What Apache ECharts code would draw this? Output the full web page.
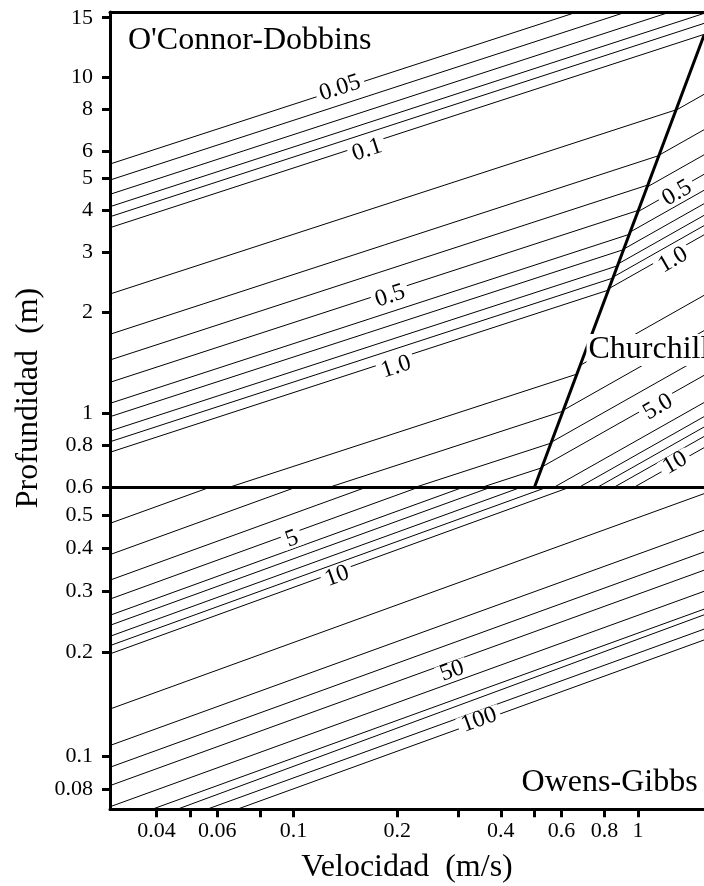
<!DOCTYPE html>
<html><head><meta charset="utf-8">
<script src="https://cdn.jsdelivr.net/npm/echarts@6/dist/echarts.min.js"></script>
<style>html,body{margin:0;padding:0;background:#fff}#c{width:704px;height:886px}</style>
</head><body><div id="c"></div>
<script>
// ---- axes ----
const xRange = [0.0293, 1.556];
const yRangeUpper = [0.6, 15.6];
const yRangeLower = [0.07, 0.6];
const xTicks = [0.04, 0.05, 0.06, 0.08, 0.1, 0.2, 0.3, 0.4, 0.5, 0.6, 0.8, 1];
const xTickLabels = [0.04, 0.06, 0.1, 0.2, 0.4, 0.6, 0.8, 1];
const yTicksUpper = [15, 10, 8, 6, 5, 4, 3, 2, 1, 0.8];
const yTicksLower = [0.6, 0.5, 0.4, 0.3, 0.2, 0.1, 0.08];

// ---- O'Connor-Dobbins contours (upper panel): [velocity, depth] ----
const ocValues = [0.05, 0.06, 0.07, 0.08, 0.09, 0.1, 0.2, 0.3, 0.4, 0.5, 0.6, 0.7, 0.8, 0.9, 1.0, 2, 3, 4, 5];
const ocStart = [[0.0293,5.507],[0.0293,4.935],[0.0293,4.475],[0.0293,4.112],[0.0293,3.838],[0.0293,3.561],
  [0.0293,2.261],[0.0293,1.716],[0.0293,1.439],[0.0293,1.235],[0.0293,1.069],[0.0293,0.9757],[0.0293,0.8847],
  [0.0293,0.8219],[0.0293,0.7648],[0.0645,0.6],[0.1259,0.6],[0.2238,0.6],[0.3497,0.6]];
const ocEnd = [[0.666,15.6],[0.925,15.6],[1.241,15.6],[1.556,15.45],[1.556,14.43],[1.556,13.38],
  [1.290,7.98],[1.149,5.832],[1.068,4.769],[1.002,4.008],[0.9438,3.402],[0.9084,3.064],[0.8719,2.742],
  [0.8458,2.522],[0.8209,2.322],[0.6646,1.306],[0.6058,1.013],[0.5592,0.814],[0.5255,0.6875]];

// ---- Churchill contours (upper panel, right of boundary) ----
const chValues = [0.2, 0.3, 0.4, 0.5, 0.6, 0.7, 0.8, 0.9, 1.0, 2, 3, 4, 5, 6, 7, 8, 9, 10];
const chStart = [[1.288,7.953],[1.151,5.848],[1.062,4.701],[0.9985,3.969],[0.9492,3.456],[0.9095,3.075],
  [0.8763,2.779],[0.8482,2.541],[0.8236,2.346],[0.6797,1.387],[0.6072,1.020],[0.5607,0.8197],[0.5268,0.6922],
  [0.568,0.6],[0.6714,0.6],[0.7594,0.6],[0.8485,0.6],[0.9700,0.6]];
const chEnd = [[1.556,8.874],[1.556,6.963],[1.556,5.865],[1.556,5.131],[1.556,4.6],[1.556,4.196],
  [1.556,3.874],[1.556,3.611],[1.556,3.39],[1.556,2.24],[1.556,1.759],[1.556,1.48],[1.556,1.295],
  [1.556,1.075],[1.556,0.976],[1.556,0.909],[1.556,0.852],[1.556,0.789]];

// ---- boundary between O'Connor-Dobbins and Churchill ----
const boundary = [[0.5, 0.6], [1.556, 13.3]];

// ---- Owens-Gibbs contours (lower panel) ----
const ogValues = [2, 3, 4, 5, 6, 7, 8, 9, 10, 20, 30, 40, 50, 60, 70, 80, 90, 100];
const ogStart = [[0.0293,0.4729],[0.0293,0.3837],[0.0293,0.3236],[0.0293,0.2851],[0.0293,0.2559],[0.0293,0.2393],
  [0.0293,0.2223],[0.0293,0.2089],[0.0293,0.1977],[0.0293,0.1368],[0.0293,0.1072],[0.0293,0.0927],[0.0293,0.0820],
  [0.0293,0.0712],[0.0388,0.07],[0.0459,0.07],[0.0560,0.07],[0.0685,0.07]];
const ogEnd = [[0.0567,0.6],[0.1007,0.6],[0.1612,0.6],[0.2287,0.6],[0.3083,0.6],[0.3707,0.6],
  [0.4543,0.6],[0.5395,0.6],[0.6284,0.6],[1.556,0.5765],[1.556,0.4516],[1.556,0.3906],[1.556,0.3457],
  [1.556,0.3002],[1.556,0.2665],[1.556,0.2566],[1.556,0.2332],[1.556,0.2169]];

// ---- contour labels: [velocity, depth, text, rotation] ----
const upperLabels = [[0.1364,9.27,'0.05',18],[0.1636,6.06,'0.1',18],[0.1908,2.23,'0.5',18],[0.1986,1.371,'1.0',18],
  [1.299,4.515,'0.5',30],[1.265,2.854,'1.0',30],[1.144,1.043,'5.0',30],[1.282,0.7107,'10',30]];
const lowerLabels = [[0.0990,0.4258,'5',20],[0.1338,0.3324,'10',20],[0.2887,0.1763,'50',20],[0.3458,0.1271,'100',20]];
// region names
const regionUpper = [[0.0325,12.79,"O'Connor-Dobbins",'right'],[0.7069,1.541,'Churchill','right']];
const regionLower = [[1.516,0.0834,'Owens-Gibbs','left']];

const FONT = 'Liberation Serif';
const series = [];
function addLines(starts, ends, xi, yi) {
  starts.forEach((s, i) => {
    series.push({type:'line', xAxisIndex:xi, yAxisIndex:yi, data:[s, ends[i]], showSymbol:false, silent:true,
      animation:false, z:2, lineStyle:{width:1, color:'#000'}});
  });
}
addLines(ocStart, ocEnd, 0, 0);
addLines(chStart, chEnd, 0, 0);
addLines(ogStart, ogEnd, 2, 1);
series.push({type:'line', xAxisIndex:0, yAxisIndex:0, data:boundary, showSymbol:false, silent:true, animation:false,
  z:4, lineStyle:{width:3, color:'#000'}});

function addLabels(list, xi, yi) {
  series.push({type:'scatter', xAxisIndex:xi, yAxisIndex:yi, symbolSize:1, silent:true, animation:false, z:5,
    itemStyle:{color:'rgba(0,0,0,0)', opacity:1},
    data: list.map(d => ({value:[d[0], d[1]], label:{rotate:d[3]}, name:d[2]})),
    label:{show:true, position:'inside', formatter:p => p.name, fontFamily:FONT, fontSize:24, color:'#000',
      backgroundColor:'#fff', padding:[0,4], lineHeight:18}});
}
addLabels(upperLabels, 0, 0);
addLabels(lowerLabels, 2, 1);
function addRegion(list, xi, yi) {
  series.push({type:'scatter', xAxisIndex:xi, yAxisIndex:yi, symbolSize:1, silent:true, animation:false, z:6,
    itemStyle:{color:'rgba(0,0,0,0)', opacity:1},
    data: list.map(d => ({value:[d[0], d[1]], name:d[2], label:{position:d[3]}})),
    label:{show:true, distance:0, formatter:p => p.name, fontFamily:FONT, fontSize:32, color:'#000',
      backgroundColor:'#fff', padding:[0,2]}});
}
addRegion(regionUpper, 0, 0);
addRegion(regionLower, 2, 1);

const axisLineStyle = {lineStyle:{color:'#000', width:3}};
const fmt = v => String(+v.toPrecision(6));
const option = {
  backgroundColor:'#fff',
  animation:false,
  grid:[
    {left:110, right:0, top:12, height:475.7},
    {left:110, right:0, top:487.7, height:321.6}
  ],
  xAxis:[
    {gridIndex:0, type:'log', min:xRange[0], max:xRange[1], position:'bottom', axisLine:{show:true, onZero:false, ...axisLineStyle},
      axisTick:{show:false}, axisLabel:{show:false}, splitLine:{show:false}, minorTick:{show:false}},
    {gridIndex:0, type:'log', min:xRange[0], max:xRange[1], position:'top', axisLine:{show:true, onZero:false, ...axisLineStyle},
      axisTick:{show:false}, axisLabel:{show:false}, splitLine:{show:false}},
    {gridIndex:1, type:'log', min:xRange[0], max:xRange[1], position:'bottom', axisLine:{show:true, onZero:false, ...axisLineStyle},
      axisTick:{show:true, customValues:xTicks, length:8, lineStyle:{width:3, color:'#000'}},
      axisLabel:{show:true, customValues:xTickLabels, formatter:fmt, fontFamily:FONT, fontSize:22, color:'#000', margin:11},
      splitLine:{show:false},
      name:'Velocidad  (m/s)', nameLocation:'middle', nameGap:42,
      nameTextStyle:{fontFamily:FONT, fontSize:32, color:'#000'}}
  ],
  yAxis:[
    {gridIndex:0, type:'log', min:yRangeUpper[0], max:yRangeUpper[1], axisLine:{show:true, onZero:false, ...axisLineStyle},
      axisTick:{show:true, customValues:yTicksUpper, length:8, lineStyle:{width:3, color:'#000'}},
      axisLabel:{show:true, customValues:yTicksUpper, formatter:fmt, fontFamily:FONT, fontSize:22, color:'#000', margin:17},
      splitLine:{show:false}},
    {gridIndex:1, type:'log', min:yRangeLower[0], max:yRangeLower[1], axisLine:{show:true, onZero:false, ...axisLineStyle},
      axisTick:{show:true, customValues:yTicksLower, length:8, lineStyle:{width:3, color:'#000'}},
      axisLabel:{show:true, customValues:yTicksLower, formatter:fmt, fontFamily:FONT, fontSize:22, color:'#000', margin:17},
      splitLine:{show:false}}
  ],
  graphic:[{type:'text', x:29, y:398, rotation:Math.PI/2,
    style:{text:'Profundidad  (m)', font:'32px "Liberation Serif"', fill:'#000', align:'center', verticalAlign:'middle'}}],
  series
};
const chart = echarts.init(document.getElementById('c'), null, {renderer:'canvas'});
chart.setOption(option);
</script>
</body></html>
